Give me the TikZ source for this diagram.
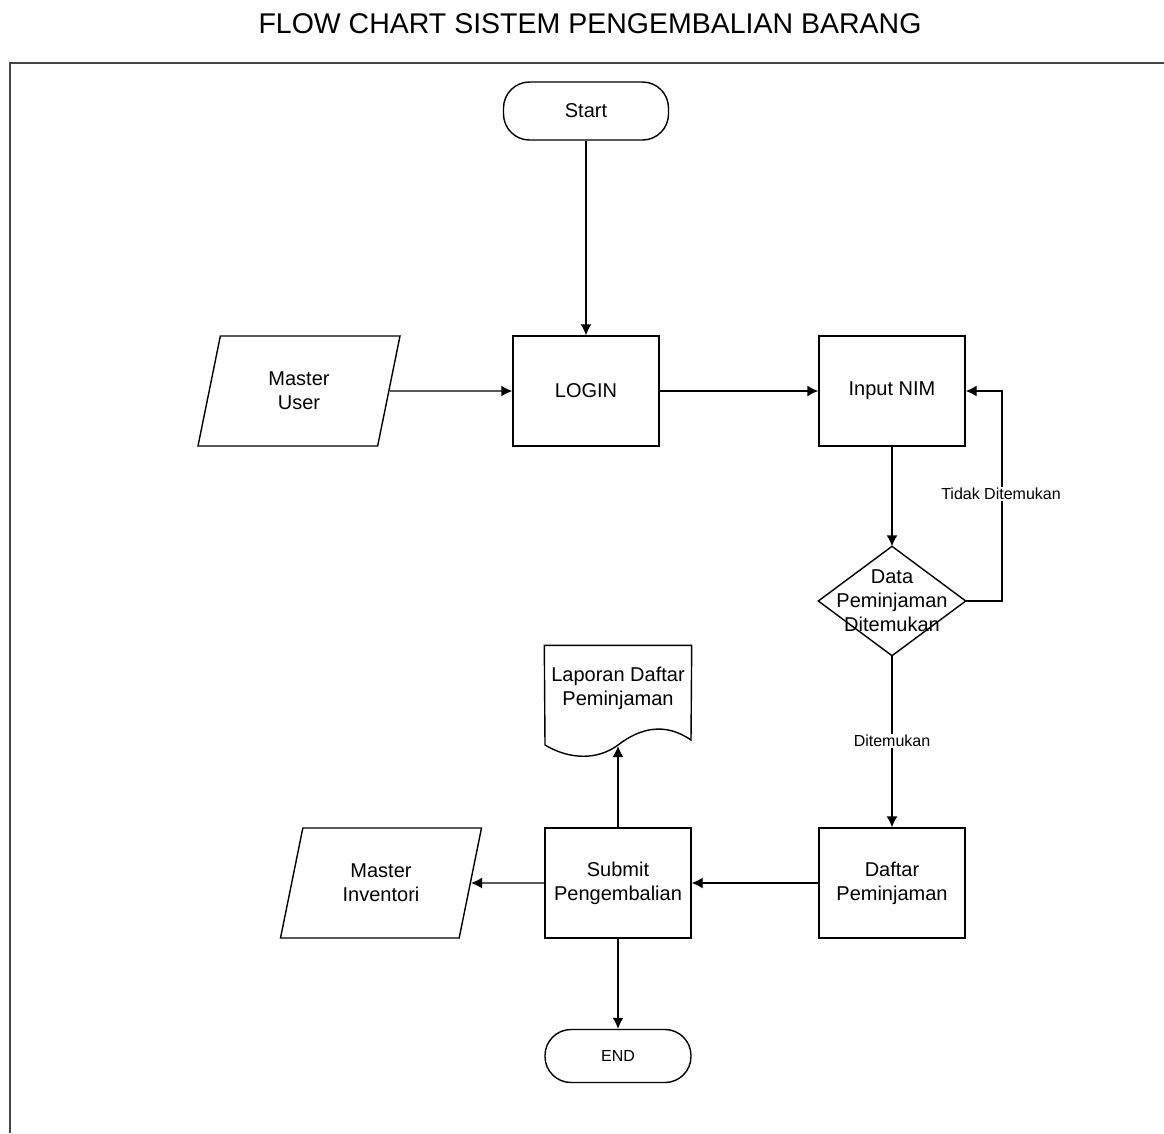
\documentclass[tikz,border=0pt]{standalone}
\usepackage{fontspec}
\setmainfont{Liberation Sans}
\usetikzlibrary{shapes.geometric,arrows.meta}

\begin{document}
\begin{tikzpicture}[->,>={Latex[length=11pt,width=11pt]},x=1pt,y=-1pt,line width=1.4pt,
  font=\fontsize{20}{24}\selectfont,
  box/.style={draw,-,minimum width=146pt,minimum height=110pt,align=center},
  term/.style={draw,-,rounded corners=26pt,minimum width=165pt,minimum height=58pt},
  io/.style={draw,-,trapezium,trapezium left angle=63.4,trapezium right angle=116.6,
    trapezium stretches body,minimum width=202pt,minimum height=110pt,align=center},
  cond/.style={minimum width=146pt,minimum height=108pt,align=center,inner sep=0pt},
  lbl/.style={fill=white,font=\fontsize{16}{18}\selectfont,inner sep=1pt}]

\useasboundingbox (0,0) rectangle (1164,1133);

\node (title) at (590,24) {\fontsize{28.5}{32}\selectfont FLOW CHART SISTEM PENGEMBALIAN BARANG};
\draw [-,gray!55!black,line width=2pt] (10,1133) -- (10,63) -- (1164,63);

\node [term] (s) at (586,111) {Start};
\node [box] (a) at (586,391) {LOGIN};
\node [io] (u) at (299,391) {Master\\User};
\node [box] (b) at (892,391) {Input NIM};
\node [cond] (c) at (892,601) {Data\\Peminjaman\\Ditemukan};
\path [draw,-] (c.north) -- (c.east) -- (c.south) -- (c.west) -- cycle;
\node [box] (d) at (892,883) {Daftar\\Peminjaman};
\node [box] (e) at (618,883) {Submit\\Pengembalian};
\node [io,minimum width=201pt] (v) at (381,883) {Master\\Inventori};
\node [term,minimum width=146pt,minimum height=53pt] (f) at (618,1056) {\fontsize{16}{18}\selectfont END};

% laporan (document shape)
\node [minimum width=146pt,minimum height=100pt] (l) at (618,696) {};
\node [align=center] at (618,688) {Laporan Daftar\\Peminjaman};
\path [draw,-]
    (l.north west) -- (l.north east) -- (691,740)
    .. controls (665,722) and (640,728) .. (618,745)
    .. controls (598,760) and (570,760) .. (545,745) -- cycle
;
\coordinate (lb) at (618,746);

\draw (s) -- (a);
\draw (u) -- (a);
\draw (a) -- (b);
\draw (b) -- (c.north);
\draw (c.east) -- (1002,601) |- (b.east);
\draw (c.south) -- (d);
\draw (d) -- (e);
\draw (e) -- (v);
\draw (e) -- (lb);
\draw (e) -- (f);

\node [lbl] (t) at (1001,494) {Tidak Ditemukan};
\node [lbl] (g) at (892,741) {Ditemukan};

\end{tikzpicture}
\end{document}
